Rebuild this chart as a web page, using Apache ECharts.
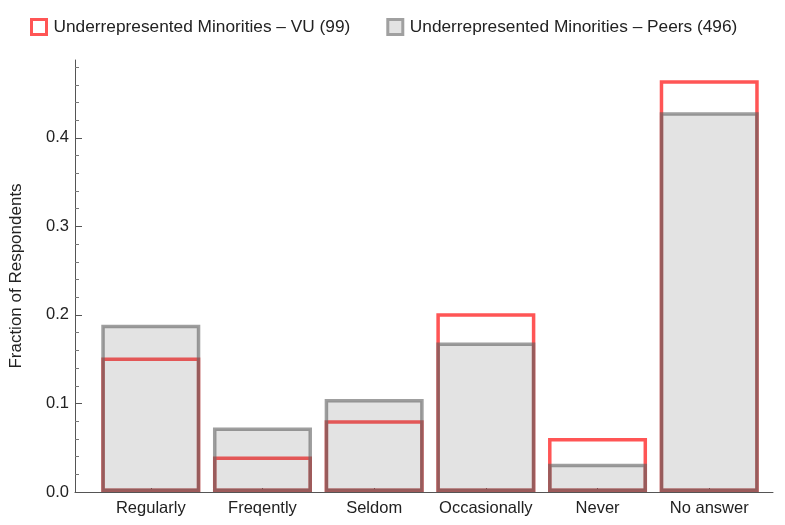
<!DOCTYPE html>
<html>
<head>
<meta charset="utf-8">
<script src="https://cdn.jsdelivr.net/npm/echarts@6/dist/echarts.min.js"></script>
<style>html,body{margin:0;padding:0;background:#fff}#c{width:785px;height:525px}</style>
</head>
<body>
<div id="c"></div>
<script>
var categories = ['Regularly', 'Freqently', 'Seldom', 'Occasionally', 'Never', 'No answer'];
var vuValues = [0.152, 0.040, 0.081, 0.202, 0.061, 0.465];
var peerValues = [0.189, 0.073, 0.105, 0.169, 0.032, 0.429];
var yTicks = [0, 0.1, 0.2, 0.3, 0.4];
var seriesNames = ['Underrepresented Minorities \u2013 VU (99)', 'Underrepresented Minorities \u2013 Peers (496)'];

var positions = categories.map(function (c, i) { return i; });
var font = 'Liberation Sans, Arial, sans-serif';
var fs = 16.5;

var chart = echarts.init(document.getElementById('c'), null, {renderer: 'canvas'});
chart.setOption({
  animation: false,
  backgroundColor: '#fff',
  textStyle: {fontFamily: font},
  legend: {
    left: 30, top: 18, itemWidth: 15, itemHeight: 15, itemGap: 36, padding: 0,
    icon: 'rect',
    textStyle: {fontFamily: font, fontSize: 17.3, color: '#222', padding: [0, 0, 0, 2]},
    data: [
      {name: seriesNames[0], itemStyle: {color: '#fff', borderColor: '#ff5555', borderWidth: 3}},
      {name: seriesNames[1], itemStyle: {color: '#e3e3e3', borderColor: '#a0a0a0', borderWidth: 3}}
    ]
  },
  grid: {left: 73, right: 12, top: 60, bottom: 33, containLabel: false},
  xAxis: {
    type: 'value',
    min: -0.6786, max: 5.571,
    axisLine: {show: true, onZero: false, lineStyle: {color: '#555', width: 1}},
    axisTick: {show: true, inside: true, length: 4, customValues: positions, lineStyle: {color: '#333'}},
    axisLabel: {
      show: true, customValues: positions, margin: 8,
      fontFamily: font, fontSize: fs, color: '#222',
      formatter: function (v) { return categories[Math.round(v)]; }
    },
    splitLine: {show: false}
  },
  yAxis: {
    type: 'value',
    min: 0, max: 0.488, interval: 0.1,
    name: 'Fraction of Respondents',
    nameLocation: 'middle', nameGap: 50, nameRotate: 90,
    nameTextStyle: {fontFamily: font, fontSize: 17, color: '#222'},
    axisLine: {show: true, onZero: false, lineStyle: {color: '#555', width: 1}},
    axisTick: {show: true, inside: true, length: 7, customValues: yTicks, lineStyle: {color: '#555'}},
    minorTick: {show: true, splitNumber: 5, length: 4, lineStyle: {color: '#777'}},
    axisLabel: {
      customValues: yTicks, margin: 6, fontFamily: font, fontSize: fs, color: '#222',
      formatter: function (v) { return v.toFixed(1); }
    },
    splitLine: {show: false}
  },
  series: [
    {
      name: seriesNames[0], type: 'bar', barWidth: 99, barGap: '-100%',
      data: vuValues.map(function (v, i) { return [positions[i], v]; }),
      itemStyle: {color: 'rgba(255,255,255,0)', borderColor: '#ff5555', borderWidth: 3.5},
      z: 2
    },
    {
      name: seriesNames[1], type: 'bar', barWidth: 99, barGap: '-100%',
      data: peerValues.map(function (v, i) { return [positions[i], v]; }),
      itemStyle: {color: 'rgba(100,100,100,0.18)', borderColor: 'rgba(95,95,95,0.6)', borderWidth: 3.5},
      z: 3
    }
  ]
});
</script>
</body>
</html>
